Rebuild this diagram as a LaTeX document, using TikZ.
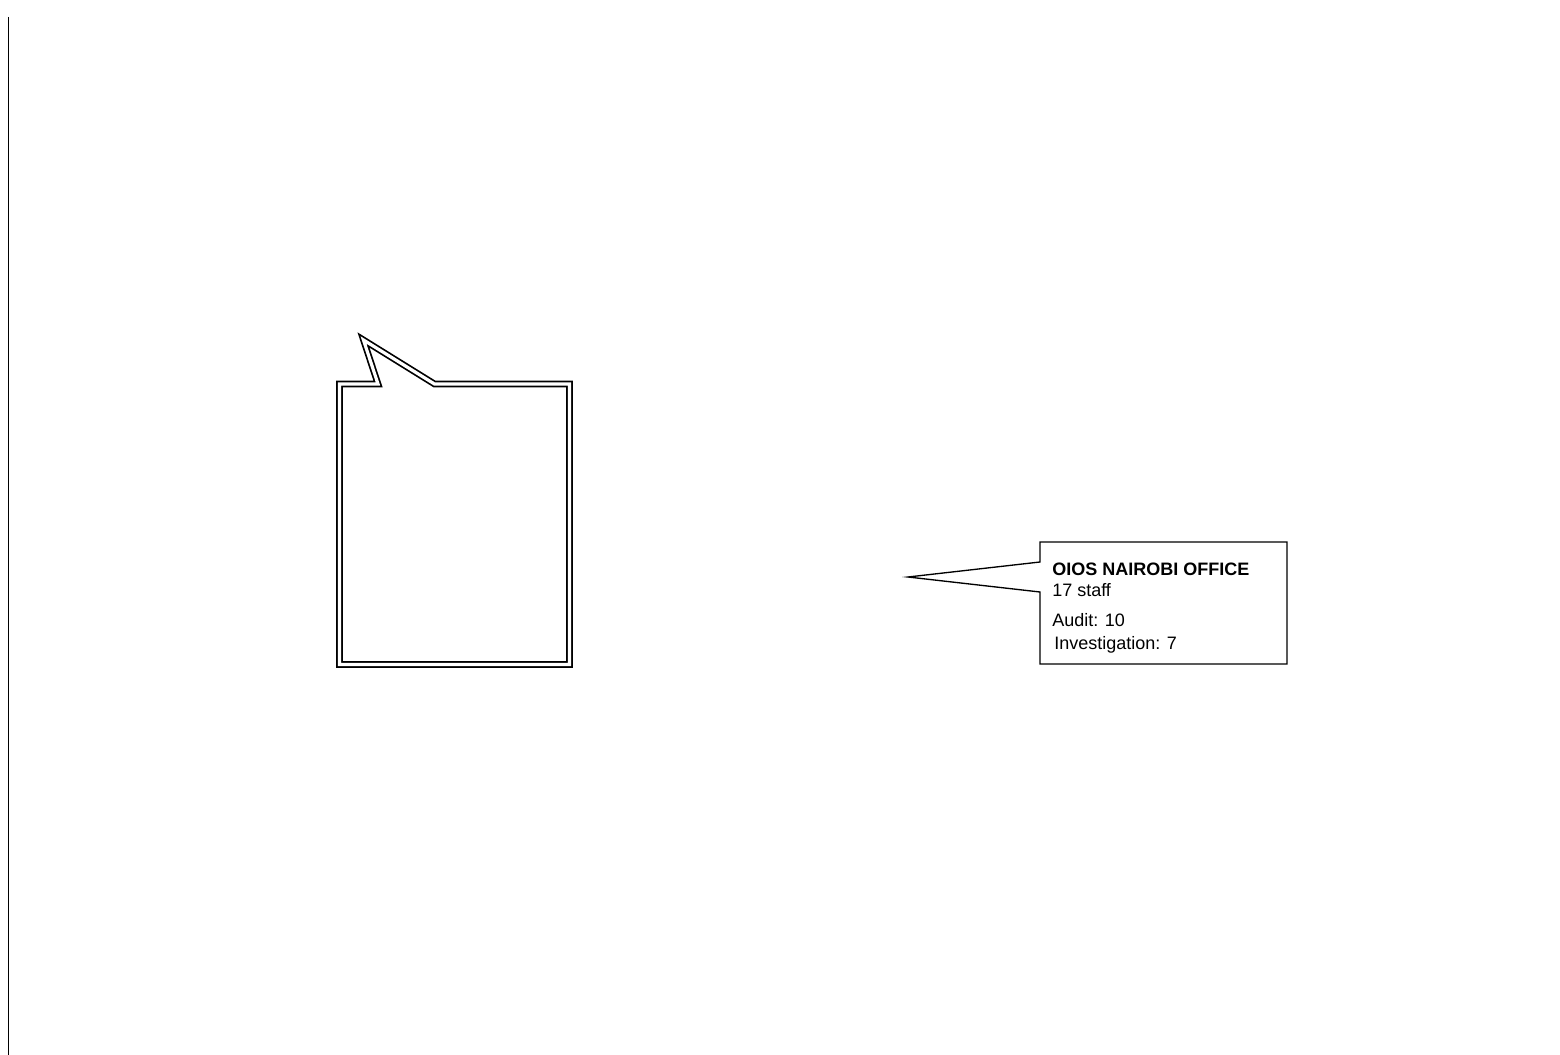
\documentclass[tikz,border=0pt]{standalone}
\usepackage{fontspec}
\setmainfont{Liberation Sans}

\begin{document}
\begin{tikzpicture}[
    x=0.75pt,
    y=-0.75pt,
    frame/.style={
        draw,
        line width=1.3pt,
        double,
        double distance=2.4pt,
        line join=miter
    },
    callout/.style={
        draw,
        line width=1pt,
        line join=miter
    },
    info/.style={
        anchor=base west,
        inner sep=0pt,
        font=\fontsize{13.5}{16}\selectfont
    }
]
\useasboundingbox (0,0) rectangle (1560,1055);

% left margin rule
\coordinate (rtop) at (8.5,17);
\coordinate (rbot) at (8.5,1055);
\draw[line width=1.4pt] (rtop) -- (rbot);

% empty double-lined callout
\coordinate (btl) at (339.5,384);
\coordinate (bnotch) at (378,384);
\coordinate (btip) at (363.5,340);
\coordinate (bjoin) at (434.5,384);
\coordinate (btr) at (569.5,384);
\coordinate (bbr) at (569.5,664.5);
\coordinate (bbl) at (339.5,664.5);
\draw[frame] (btl) -- (bnotch) -- (btip) -- (bjoin) -- (btr)
    -- (bbr) -- (bbl) -- cycle;

% Nairobi callout
\coordinate (ntl) at (1040,542);
\coordinate (ntr) at (1287,542);
\coordinate (nbr) at (1287,664);
\coordinate (nbl) at (1040,664);
\coordinate (nup) at (1040,562);
\coordinate (ntip) at (908,577);
\coordinate (nlow) at (1040,592);
\draw[callout] (ntl) -- (ntr) -- (nbr) -- (nbl) -- (nlow) -- (ntip)
    -- (nup) -- cycle;

\node[info, font=\fontsize{13.5}{16}\selectfont\bfseries] (title) at (1052,575)
    {OIOS NAIROBI OFFICE};
\node[info] (staff) at (1052,596) {17 staff};
\node[info] (audit) at (1052,626) {Audit: 10};
\node[info] (invest) at (1054,649) {Investigation: 7};

\end{tikzpicture}
\end{document}
